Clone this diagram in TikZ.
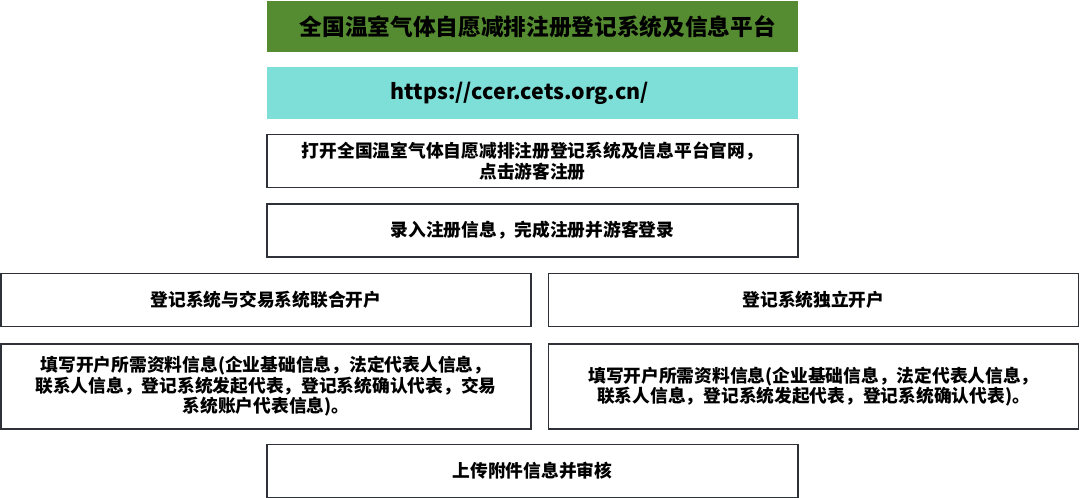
\documentclass[tikz,border=0pt]{standalone}
\usepackage{fontspec}
\setmainfont{Noto Sans CJK SC}
\usepackage{tikz}
\usetikzlibrary{positioning}
\definecolor{titlegreen}{HTML}{568C31}
\definecolor{urlcyan}{HTML}{7EDED8}
\definecolor{edgegray}{HTML}{2E3138}

\begin{document}
\begin{tikzpicture}[x=0.75pt, y=-0.75pt,
        stepbox/.style={draw=edgegray, line width=1.1pt, minimum width=398pt, minimum height=39.5pt,
                        inner sep=0pt, align=center, font=\bfseries\fontsize{13.3}{15.4}\selectfont},
        widebox/.style={stepbox, minimum width=397.5pt},
        headbox/.style={fill=titlegreen, minimum width=398pt, minimum height=38.5pt, inner sep=0pt,
                        font=\bfseries\fontsize{17}{19}\selectfont},
        urlbox/.style={fill=urlcyan, minimum width=398pt, minimum height=39pt, inner sep=0pt,
                        font=\bfseries\fontsize{16}{18}\selectfont}]
                \useasboundingbox (0,0) rectangle (1080,498);

                \node[headbox] (title) at (532.5, 26.5) {\hspace{8pt}全国温室气体自愿减排注册登记系统及信息平台};
                \node[urlbox] (url) at (532.5, 93) {https://ccer.cets.org.cn/\kern19pt\null};

                \node[stepbox] (open) at (532.5, 161) {打开全国温室气体自愿减排注册登记系统及信息平台官网，\\点击游客注册};
                \node[stepbox] (login) at (532.5, 230.5) {录入注册信息，完成注册并游客登录};

                \node[widebox] (joint) at (266, 300) {登记系统与交易系统联合开户};
                \node[widebox] (solo) at (813.5, 300) {登记系统独立开户};

                \node[widebox, minimum height=63.75pt] (jointinfo) at (266, 386.5)
                    {填写开户所需资料信息(企业基础信息，法定代表人信息，\\联系人信息，登记系统发起代表，登记系统确认代表，交易\\系统账户代表信息)。};
                \node[widebox, minimum height=63.75pt] (soloinfo) at (813.5, 386.5)
                    {填写开户所需资料信息(企业基础信息，法定代表人信息，\\联系人信息，登记系统发起代表，登记系统确认代表)。};

                \node[stepbox] (upload) at (532.5, 471) {上传附件信息并审核};
            \end{tikzpicture}
\end{document}
